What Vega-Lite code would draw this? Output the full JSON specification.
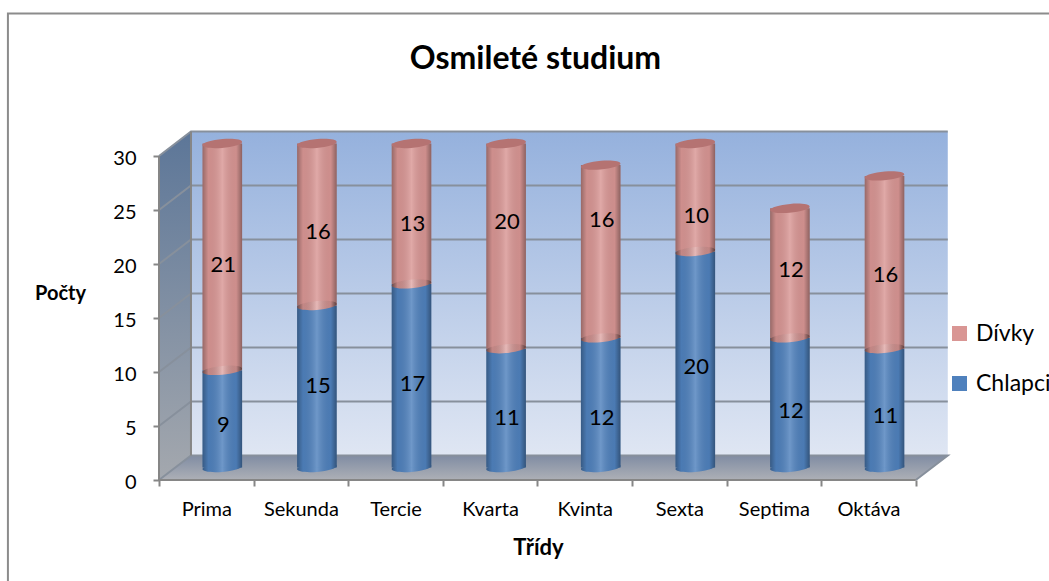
{
"$schema":"https://vega.github.io/schema/vega-lite/v6.json",
"width":1049,"height":581,"padding":0,"autosize":"none",
"background":"white",
"config":{"view":{"stroke":null},"font":"Lato"},
"title":{"text":"Osmileté studium","font":"Lato","fontSize":32,"fontWeight":"bold","color":"#000000","anchor":"middle","frame":"group","dx":11,"offset":-76},
"datasets":{
"rows":[
{"trida":"Prima","poradi":0.5,"skupina":"Chlapci","rada":1,"pocet":9,"popisek":5.1},
{"trida":"Prima","poradi":0.5,"skupina":"Dívky","rada":2,"pocet":21,"popisek":19.9},
{"trida":"Sekunda","poradi":1.5,"skupina":"Chlapci","rada":1,"pocet":15,"popisek":8.7},
{"trida":"Sekunda","poradi":1.5,"skupina":"Dívky","rada":2,"pocet":16,"popisek":23.0},
{"trida":"Tercie","poradi":2.5,"skupina":"Chlapci","rada":1,"pocet":17,"popisek":8.9},
{"trida":"Tercie","poradi":2.5,"skupina":"Dívky","rada":2,"pocet":13,"popisek":23.7},
{"trida":"Kvarta","poradi":3.5,"skupina":"Chlapci","rada":1,"pocet":11,"popisek":5.7},
{"trida":"Kvarta","poradi":3.5,"skupina":"Dívky","rada":2,"pocet":20,"popisek":23.9},
{"trida":"Kvinta","poradi":4.5,"skupina":"Chlapci","rada":1,"pocet":12,"popisek":5.7},
{"trida":"Kvinta","poradi":4.5,"skupina":"Dívky","rada":2,"pocet":16,"popisek":24.1},
{"trida":"Sexta","poradi":5.5,"skupina":"Chlapci","rada":1,"pocet":20,"popisek":10.5},
{"trida":"Sexta","poradi":5.5,"skupina":"Dívky","rada":2,"pocet":10,"popisek":24.4},
{"trida":"Septima","poradi":6.5,"skupina":"Chlapci","rada":1,"pocet":12,"popisek":6.4},
{"trida":"Septima","poradi":6.5,"skupina":"Dívky","rada":2,"pocet":12,"popisek":19.4},
{"trida":"Oktáva","poradi":7.5,"skupina":"Chlapci","rada":1,"pocet":11,"popisek":5.9},
{"trida":"Oktáva","poradi":7.5,"skupina":"Dívky","rada":2,"pocet":16,"popisek":19.0}
],
"zadni":[{"u":0.338,"a":2.27,"b":32.27},{"u":8.338,"a":2.27,"b":32.27}],
"bocni":[{"u":0,"a":0,"b":30},{"u":0.338,"a":2.27,"b":32.27}],
"podlaha":[{"u":0,"a":0,"b":0},{"u":0.338,"a":0,"b":2.27},{"u":8,"a":0,"b":2.27},{"u":8.338,"a":2.27,"b":2.27}],
"mrizka":[
{"k":0,"i":1,"u":0,"v":0},{"k":0,"i":2,"u":0.338,"v":2.27},{"k":0,"i":3,"u":8.338,"v":2.27},{"k":0,"i":4,"u":8,"v":0},
{"k":5,"i":1,"u":0,"v":5},{"k":5,"i":2,"u":0.338,"v":7.27},{"k":5,"i":3,"u":8.338,"v":7.27},
{"k":10,"i":1,"u":0,"v":10},{"k":10,"i":2,"u":0.338,"v":12.27},{"k":10,"i":3,"u":8.338,"v":12.27},
{"k":15,"i":1,"u":0,"v":15},{"k":15,"i":2,"u":0.338,"v":17.27},{"k":15,"i":3,"u":8.338,"v":17.27},
{"k":20,"i":1,"u":0,"v":20},{"k":20,"i":2,"u":0.338,"v":22.27},{"k":20,"i":3,"u":8.338,"v":22.27},
{"k":25,"i":1,"u":0,"v":25},{"k":25,"i":2,"u":0.338,"v":27.27},{"k":25,"i":3,"u":8.338,"v":27.27},
{"k":30,"i":1,"u":0,"v":30},{"k":30,"i":2,"u":0.338,"v":32.27},{"k":30,"i":3,"u":8.338,"v":32.27}
],
"osy":[
{"k":"y","i":1,"u":0,"v":0},{"k":"y","i":2,"u":0,"v":30},
{"k":"x","i":1,"u":0,"v":0},{"k":"x","i":2,"u":8,"v":0},
{"k":"z","i":1,"u":0.338,"v":2.27},{"k":"z","i":2,"u":0.338,"v":32.27}
],
"ram":[{"i":1,"u":-1.597,"v":-9.352},{"i":2,"u":-1.597,"v":43.2},{"i":3,"u":9.408,"v":43.2}]
},
"layer":[
{"data":{"name":"ram"},"mark":{"type":"line","color":"#8C8C8C","strokeWidth":2,"clip":false},
 "encoding":{"x":{"field":"u","type":"quantitative","axis":null,"scale":{"domain":[-1.6808,9.408],"nice":false,"zero":false,"padding":0}},
 "y":{"field":"v","type":"quantitative","axis":null,"scale":{"domain":[-9.352,44.444],"nice":false,"zero":false,"padding":0}},"order":{"field":"i"}}},
{"data":{"name":"zadni"},"mark":{"type":"area","color":{"gradient":"linear","x1":0,"y1":0,"x2":0,"y2":1,"stops":[{"offset":0,"color":"#95B1DD"},{"offset":1,"color":"#DFE6F3"}]}},
 "encoding":{"x":{"field":"u","type":"quantitative","axis":null},"y":{"field":"a","type":"quantitative","axis":null},"y2":{"field":"b"}}},
{"data":{"name":"bocni"},"mark":{"type":"area","color":{"gradient":"linear","x1":0,"y1":0,"x2":0,"y2":1,"stops":[{"offset":0,"color":"#5C7698"},{"offset":1,"color":"#A4A8AE"}]}},
 "encoding":{"x":{"field":"u","type":"quantitative","axis":null},"y":{"field":"a","type":"quantitative",
  "axis":{"orient":"left","offset":-159,"values":[0,5,10,15,20,25,30],"domain":false,"grid":false,"tickColor":"#868686","tickWidth":2,"tickSize":6,"labelPadding":17,"labelOffset":2.5,"labelFontSize":20,"labelColor":"#000000","labelFont":"Lato","title":"Počty","titleFont":"Lato","titleFontSize":20,"titleFontWeight":"bold","titleColor":"#000000","titleAngle":0,"titleAlign":"center","titleBaseline":"middle","titleX":-99,"titleY":293}},"y2":{"field":"b"}}},
{"data":{"name":"podlaha"},"mark":{"type":"area","color":{"gradient":"linear","x1":0,"y1":0,"x2":0,"y2":1,"stops":[{"offset":0,"color":"#808CA3"},{"offset":1,"color":"#ADB0B6"}]}},
 "encoding":{"x":{"field":"u","type":"quantitative",
  "axis":{"orient":"bottom","offset":-101,"values":[0,1,2,3,4,5,6,7,8],"domain":false,"grid":false,"labels":false,"title":null,"tickColor":"#868686","tickWidth":2,"tickSize":6}},
  "y":{"field":"a","type":"quantitative","axis":null},"y2":{"field":"b"}}},
{"data":{"name":"mrizka"},"mark":{"type":"line","color":"#87909C","strokeWidth":2},
 "encoding":{"x":{"field":"u","type":"quantitative","axis":null},"y":{"field":"v","type":"quantitative","axis":null},"detail":{"field":"k"},"order":{"field":"i"}}},
{"data":{"name":"osy"},"mark":{"type":"line","color":"#868686","strokeWidth":2},
 "encoding":{"x":{"field":"u","type":"quantitative","axis":null},"y":{"field":"v","type":"quantitative","axis":null},"detail":{"field":"k"},"order":{"field":"i"}}},
{"data":{"name":"rows"},
 "transform":[
  {"stack":"pocet","groupby":["trida"],"sort":[{"field":"rada","order":"ascending"}],"as":["od","do"]},
  {"calculate":"min(datum.do,30)","as":"do"},
  {"calculate":"min(datum.od,30)","as":"od"}
 ],
 "layer":[
  {"transform":[{"filter":"datum.rada==1"}],
   "mark":{"type":"point","filled":true,"opacity":1,"size":1568,"xOffset":16,"yOffset":-12.5,"color":"#4F81BD","shape":"M-1,0.08 A1,0.22,-5,1,1,1,-0.08 A1,0.22,-5,1,1,-1,0.08 Z"},
   "encoding":{"x":{"field":"poradi","type":"quantitative","axis":null},"y":{"field":"od","type":"quantitative","axis":null}}},
  {"transform":[{"filter":"datum.rada==1"}],
   "mark":{"type":"point","filled":true,"opacity":1,"size":1568,"xOffset":16,"yOffset":-12.5,"shape":"M-1,0.08 A1,0.22,-5,1,1,1,-0.08 A1,0.22,-5,1,1,-1,0.08 Z","color":{"gradient":"linear","x1":0,"y1":0,"x2":1,"y2":0,"stops":[{"offset":0,"color":"rgba(0,0,0,0.3)"},{"offset":0.15,"color":"rgba(0,0,0,0.05)"},{"offset":0.5,"color":"rgba(255,255,255,0.18)"},{"offset":0.85,"color":"rgba(0,0,0,0.05)"},{"offset":1,"color":"rgba(0,0,0,0.35)"}]}},
   "encoding":{"x":{"field":"poradi","type":"quantitative","axis":null},"y":{"field":"od","type":"quantitative","axis":null}}},
  {"mark":{"type":"bar","width":39.6,"orient":"vertical","xOffset":16,"yOffset":-12.5,"y2Offset":-12.5},
   "encoding":{"x":{"field":"poradi","type":"quantitative","axis":null},"y":{"field":"od","type":"quantitative","axis":null,"stack":null},"y2":{"field":"do"},
    "color":{"field":"skupina","type":"nominal","scale":{"domain":["Dívky","Chlapci"],"range":["#D99694","#4F81BD"]},
     "legend":{"orient":"none","legendX":948,"legendY":322,"title":null,"symbolType":"square","symbolSize":225,"symbolStrokeWidth":0,"labelFont":"Lato","labelFontSize":23,"labelColor":"#000000","labelOffset":5,"rowPadding":26,"labelLimit":200}}}},
  {"transform":[{"filter":"datum.rada==2"}],
   "mark":{"type":"point","filled":true,"opacity":1,"size":1568,"xOffset":16,"yOffset":-12.5,"color":"#D99694","shape":"M-1,0.08 A1,0.22,-5,1,1,1,-0.08 A1,0.22,-5,1,1,-1,0.08 Z"},
   "encoding":{"x":{"field":"poradi","type":"quantitative","axis":null},"y":{"field":"od","type":"quantitative","axis":null}}},
  {"transform":[{"filter":"datum.rada==2"}],
   "mark":{"type":"point","filled":true,"opacity":1,"size":1568,"xOffset":16,"yOffset":-12.5,"shape":"M-1,0.08 A1,0.22,-5,1,1,1,-0.08 A1,0.22,-5,1,1,-1,0.08 Z","color":{"gradient":"linear","x1":0,"y1":0,"x2":1,"y2":0,"stops":[{"offset":0,"color":"rgba(0,0,0,0.3)"},{"offset":0.15,"color":"rgba(0,0,0,0.05)"},{"offset":0.5,"color":"rgba(255,255,255,0.18)"},{"offset":0.85,"color":"rgba(0,0,0,0.05)"},{"offset":1,"color":"rgba(0,0,0,0.35)"}]}},
   "encoding":{"x":{"field":"poradi","type":"quantitative","axis":null},"y":{"field":"od","type":"quantitative","axis":null}}},
  {"mark":{"type":"bar","width":39.6,"orient":"vertical","xOffset":16,"yOffset":-12.5,"y2Offset":-12.5,"color":{"gradient":"linear","x1":0,"y1":0,"x2":1,"y2":0,"stops":[{"offset":0,"color":"rgba(0,0,0,0.3)"},{"offset":0.15,"color":"rgba(0,0,0,0.05)"},{"offset":0.5,"color":"rgba(255,255,255,0.18)"},{"offset":0.85,"color":"rgba(0,0,0,0.05)"},{"offset":1,"color":"rgba(0,0,0,0.35)"}]}},
   "encoding":{"x":{"field":"poradi","type":"quantitative","axis":null},"y":{"field":"od","type":"quantitative","axis":null,"stack":null},"y2":{"field":"do"}}},
  {"transform":[{"filter":"datum.rada==2"}],
   "mark":{"type":"point","filled":true,"opacity":1,"size":1568,"xOffset":16,"yOffset":-12.5,"color":"#B57372","shape":"M-1,0.08 A1,0.22,-5,1,1,1,-0.08 A1,0.22,-5,1,1,-1,0.08 Z"},
   "encoding":{"x":{"field":"poradi","type":"quantitative","axis":null},"y":{"field":"do","type":"quantitative","axis":null}}}
 ]},
{"data":{"name":"rows"},"mark":{"type":"text","fontSize":22,"font":"Lato","color":"#000000","xOffset":17,"baseline":"middle"},
 "encoding":{"x":{"field":"poradi","type":"quantitative",
   "axis":{"orient":"bottom","offset":-101,"values":[0.5,1.5,2.5,3.5,4.5,5.5,6.5,7.5],"domain":false,"grid":false,"ticks":false,"labelPadding":19,"labelFontSize":20,"labelFont":"Lato","labelColor":"#000000","labelExpr":"['Prima','Sekunda','Tercie','Kvarta','Kvinta','Sexta','Septima','Oktáva'][floor(datum.value)]","title":"Třídy","titleFont":"Lato","titleFontSize":22,"titleFontWeight":"bold","titleColor":"#000000","titleX":538,"titleY":67,"titleAlign":"center","titleBaseline":"middle"}},
  "y":{"field":"popisek","type":"quantitative","axis":null},"text":{"field":"pocet","type":"quantitative"}}}
],
"resolve":{"axis":{"x":"independent","y":"independent"}}
}
